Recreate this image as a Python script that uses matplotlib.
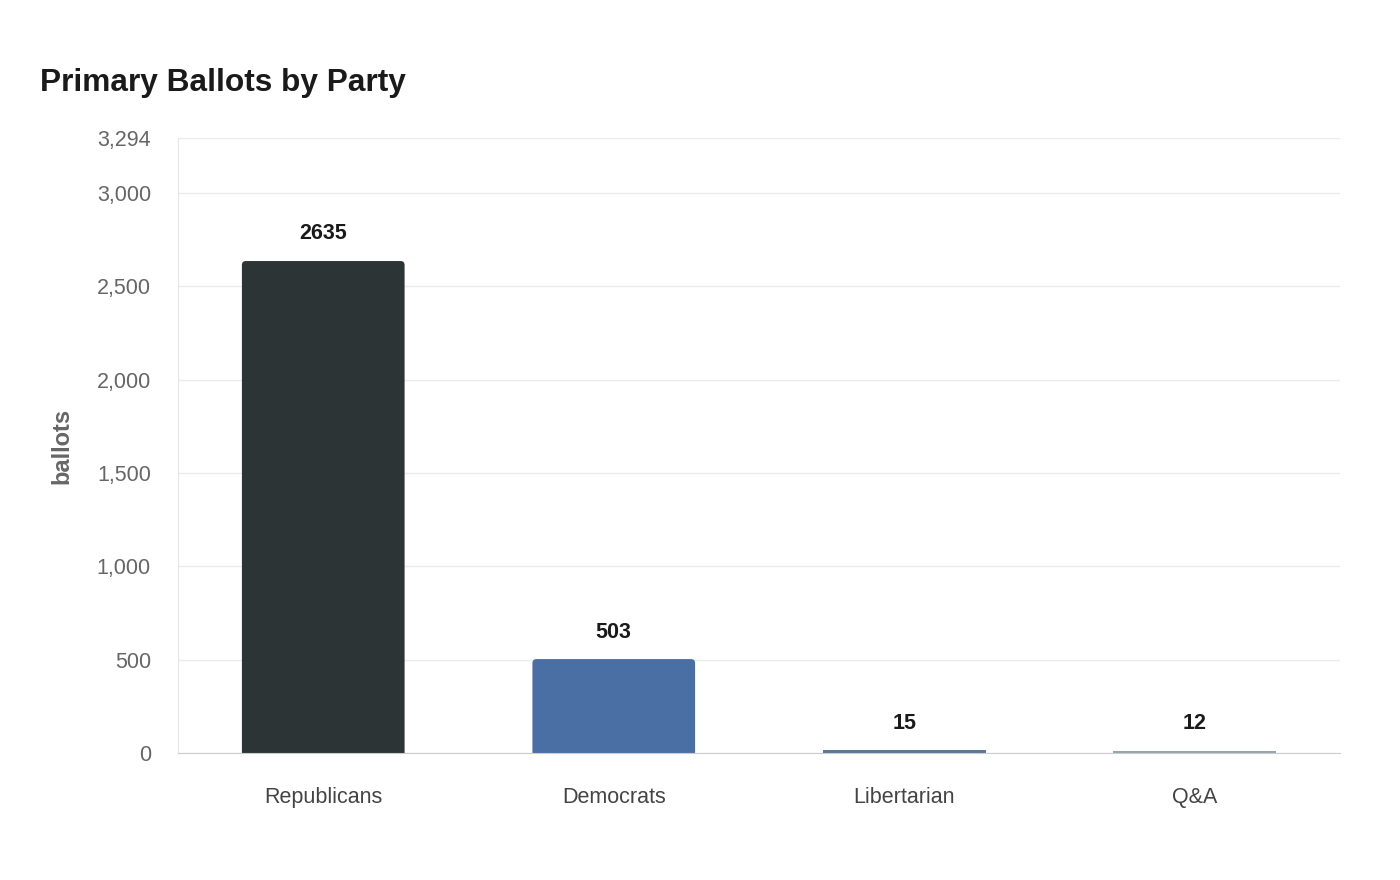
import matplotlib
matplotlib.use("Agg")
import matplotlib.pyplot as plt
from matplotlib.patches import FancyBboxPatch
from matplotlib.ticker import FuncFormatter

parties = ["Republicans", "Democrats", "Libertarian", "Q&A"]
ballots = [2635, 503, 15, 12]
colors = ["#2d3436", "#4a6fa5", "#5b7896", "#95a5ae"]
y_max = 3294
y_ticks = [0, 500, 1000, 1500, 2000, 2500, 3000, 3294]

plt.rcParams["font.family"] = ["Liberation Sans", "DejaVu Sans"]

fig = plt.figure(figsize=(14, 8.8), dpi=100)
ax = fig.add_axes([178 / 1400, 1 - 753 / 880, (1340 - 178) / 1400, (753 - 138) / 880])

x = range(len(parties))
bars = ax.bar(x, ballots, width=0.56, color=colors, zorder=3)

ax.set_xlim(-0.5, len(parties) - 0.5)
ax.set_ylim(0, y_max)

# round the top corners of the tall bars
px_x = 1 / 290.5
px_y = y_max / 615
rad = 4
for b in bars:
    if b.get_height() < 20 * px_y:
        continue
    bx, w, h = b.get_x(), b.get_width(), b.get_height()
    b.set_visible(False)
    patch = FancyBboxPatch((bx, -rad * px_y * 2), w, h + rad * px_y * 2,
                           boxstyle=f"round,pad=0,rounding_size={rad * px_x}",
                           mutation_aspect=px_y / px_x,
                           facecolor=b.get_facecolor(), edgecolor="none", zorder=3)
    ax.add_patch(patch)

for i, v in enumerate(ballots):
    ax.annotate(str(v), (i, v), xytext=(0, 19.5), textcoords="offset points",
                ha="center", va="center", fontsize=15.5, fontweight="bold", color="#1a1a1a")

ax.set_yticks(y_ticks)
ax.yaxis.set_major_formatter(FuncFormatter(lambda v, p: f"{int(v):,}"))
ax.set_xticks(list(x))
ax.set_xticklabels(parties)
ax.grid(axis="y", color="#ebebeb", linewidth=1, zorder=0)
ax.tick_params(axis="y", length=0, pad=19.5, labelsize=15.5, labelcolor="#666666")
ax.tick_params(axis="x", length=0, pad=24.5, labelsize=15.5, labelcolor="#444444")

for s in ["top", "right"]:
    ax.spines[s].set_visible(False)
ax.spines["left"].set_color("#e6e6e6")
ax.spines["bottom"].set_color("#cccccc")
ax.spines["bottom"].set_zorder(4)

fig.text(62 / 1400, 1 - 446 / 880, "ballots", rotation=90, ha="center", va="center",
         fontsize=17, fontweight="bold", color="#666666")
fig.text(40 / 1400, 1 - 82.5 / 880, "Primary Ballots by Party", ha="left", va="center",
         fontsize=22.8, fontweight="bold", color="#1a1a1a")

fig.savefig("out.png", dpi=100, facecolor="white")
